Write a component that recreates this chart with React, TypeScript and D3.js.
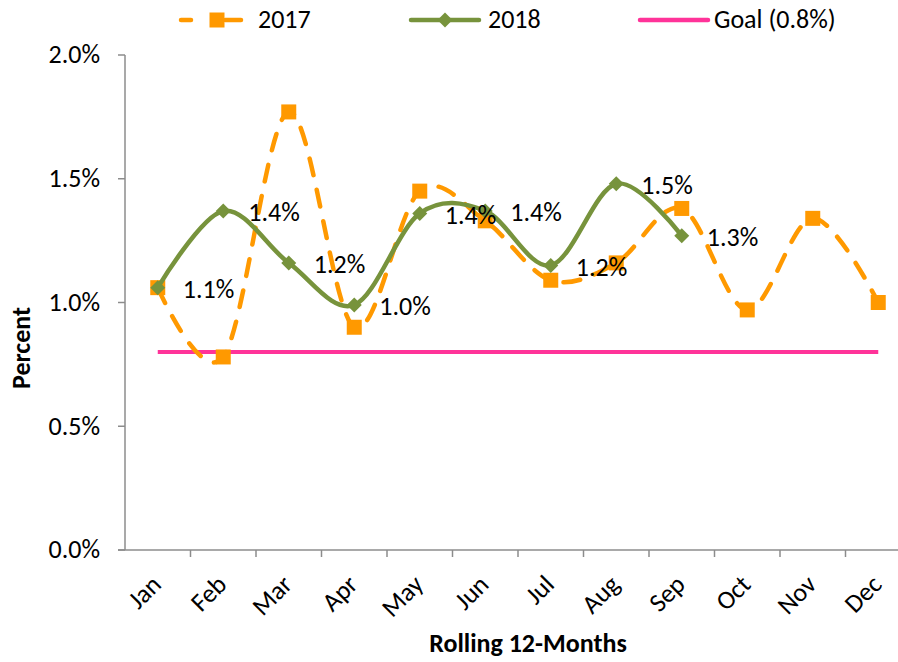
import React from "react";
import * as d3 from "d3";

const months = ["Jan", "Feb", "Mar", "Apr", "May", "Jun", "Jul", "Aug", "Sep", "Oct", "Nov", "Dec"];
const values2017 = [1.06, 0.78, 1.77, 0.9, 1.45, 1.33, 1.09, 1.16, 1.38, 0.97, 1.34, 1.0];
const values2018 = [1.06, 1.37, 1.16, 0.99, 1.36, 1.37, 1.15, 1.48, 1.27];
const labels2018 = ["1.1%", "1.4%", "1.2%", "1.0%", "1.4%", "1.4%", "1.2%", "1.5%", "1.3%"];
const goalValue = 0.8;
const yTicks = [0, 0.5, 1.0, 1.5, 2.0];

const ORANGE = "#FF9900";
const GREEN = "#77933C";
const PINK = "#FF3399";
const AXIS = "#8C8C8C";
const FONT = "Carlito, Lato, 'Open Sans', sans-serif";
const FS = 26;

export default function App() {
  const W = 898, H = 662;
  const left = 125, right = 911, top = 55, bottom = 550;
  const x = d3.scaleBand<string>().domain(months).range([left, right]).padding(0);
  const cx = (m: string) => (x(m) as number) + x.bandwidth() / 2;
  const y = d3.scaleLinear().domain([0, 2]).range([bottom, top]);
  const curve = d3.curveCardinal.tension(0);
  const line = d3.line<number>().x((_, i) => cx(months[i])).y((d) => y(d)).curve(curve);
  const path2017 = line(values2017) || "";
  const path2018 = line(values2018) || "";
  const boundaries = d3.range(months.length + 1).map((i) => left + i * x.bandwidth());

  const diamond = (px: number, py: number, r: number) =>
    `M${px},${py - r}L${px + r},${py}L${px},${py + r}L${px - r},${py}Z`;

  return (
    <svg width={W} height={H} style={{ position: "absolute", left: 0, top: 0, background: "#fff" }}>
      <rect x={0} y={0} width={W} height={H} fill="#fff" />
      {/* Y axis */}
      <line x1={left} x2={left} y1={top} y2={bottom} stroke={AXIS} strokeWidth={1.5} />
      {yTicks.map((t) => (
        <g key={t}>
          <line x1={left - 7} x2={left} y1={y(t)} y2={y(t)} stroke={AXIS} strokeWidth={1.5} />
          <text x={left - 25} y={y(t)} dy="0.32em" textAnchor="end" fontFamily={FONT} fontSize={FS} fill="#000">
            {d3.format(".1f")(t) + "%"}
          </text>
        </g>
      ))}
      {/* X axis */}
      <line x1={left - 7} x2={W} y1={bottom} y2={bottom} stroke={AXIS} strokeWidth={1.5} />
      {boundaries.slice(1).map((b, i) => (
        <line key={i} x1={b} x2={b} y1={bottom} y2={bottom + 7} stroke={AXIS} strokeWidth={1.5} />
      ))}
      {months.map((m) => (
        <text
          key={m}
          transform={`translate(${cx(m) + 5},${bottom + 36}) rotate(-45)`}
          textAnchor="end"
          fontFamily={FONT}
          fontSize={FS}
          fill="#000"
        >
          {m}
        </text>
      ))}
      {/* Axis titles */}
      <text transform={`translate(30,348) rotate(-90)`} textAnchor="middle" fontFamily={FONT} fontSize={FS} fontWeight="bold">
        Percent
      </text>
      <text x={528} y={652} textAnchor="middle" fontFamily={FONT} fontSize={FS} fontWeight="bold">
        Rolling 12-Months
      </text>
      {/* Goal line */}
      <line x1={cx(months[0])} x2={cx(months[months.length - 1])} y1={y(goalValue)} y2={y(goalValue)} stroke={PINK} strokeWidth={4} />
      {/* 2017 */}
      <path d={path2017} fill="none" stroke={ORANGE} strokeWidth={4.5} strokeDasharray="17 15" strokeLinecap="round" />
      {values2017.map((v, i) => (
        <rect key={i} x={cx(months[i]) - 7.5} y={y(v) - 7.5} width={15} height={15} fill={ORANGE} />
      ))}
      {/* 2018 */}
      <path d={path2018} fill="none" stroke={GREEN} strokeWidth={4.5} />
      {values2018.map((v, i) => (
        <path key={i} d={diamond(cx(months[i]), y(v), 7.5)} fill={GREEN} />
      ))}
      {values2018.map((v, i) => (
        <text key={i} x={cx(months[i]) + 25} y={y(v) + 10.5} fontFamily={FONT} fontSize={FS} fill="#000">
          {labels2018[i]}
        </text>
      ))}
      {/* Legend */}
      <g fontFamily={FONT} fontSize={FS}>
        <line x1={181} x2={191} y1={20} y2={20} stroke={ORANGE} strokeWidth={4.5} strokeLinecap="round" />
        <line x1={225} x2={241} y1={20} y2={20} stroke={ORANGE} strokeWidth={4.5} strokeLinecap="round" />
        <rect x={209.5} y={12.5} width={15} height={15} fill={ORANGE} />
        <text x={258} y={28}>2017</text>
        <line x1={411} x2={479} y1={20} y2={20} stroke={GREEN} strokeWidth={4.5} strokeLinecap="round" />
        <path d={diamond(445, 20, 7.5)} fill={GREEN} />
        <text x={488} y={28}>2018</text>
        <line x1={640} x2={708} y1={20} y2={20} stroke={PINK} strokeWidth={4.5} strokeLinecap="round" />
        <text x={714} y={28}>Goal (0.8%)</text>
      </g>
    </svg>
  );
}
